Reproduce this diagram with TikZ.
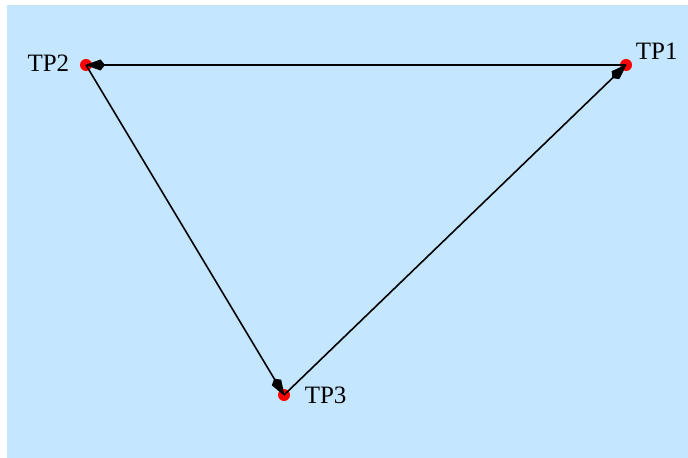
\documentclass[tikz,border=0pt]{standalone}
\usepackage{fontspec}
\setmainfont{Liberation Serif}
\definecolor{skyblue}{HTML}{C4E6FF}
\definecolor{dotred}{HTML}{FF0000}
\usetikzlibrary{arrows.meta,positioning}

\begin{document}
\begin{tikzpicture}[
  x=0.5pt, y=-0.5pt,
  tp/.style={circle, fill=dotred, inner sep=0pt, minimum size=6pt},
  lbl/.style={font=\fontsize{12.5}{14}\selectfont, inner sep=0pt},
  leg/.style={-{Kite[length=10pt,width=5.5pt,inset=2.2pt]}, line width=0.8pt, black, shorten >=-0.5pt},
]
\useasboundingbox (0,0) rectangle (688,458);
\fill[skyblue] (7,5) rectangle (688,458);
\node[tp] (tp1) at (626,65) {};
\node[tp] (tp2) at (86,65) {};
\node[tp] (tp3) at (284,395) {};
\node[lbl, left=5pt of tp2, yshift=1pt] {TP2};
\node[lbl, above right=0.5pt and 2.5pt of tp1] {TP1};
\node[lbl, right=7pt of tp3] {TP3};
\draw[leg] (tp1.center) -- (tp2.center);
\draw[leg] (tp2.center) -- (tp3.center);
\draw[leg] (tp3.center) -- (tp1.center);
\end{tikzpicture}
\end{document}
